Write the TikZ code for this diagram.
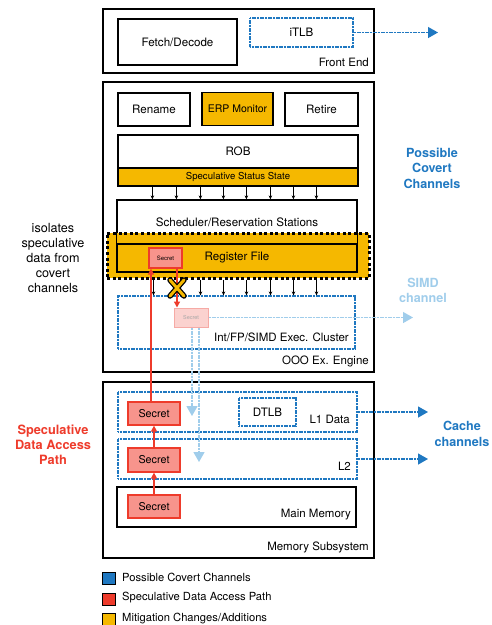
\documentclass[tikz,border=0pt]{standalone}
\usepackage{fontspec}
\setmainfont{TeX Gyre Heros}
\usetikzlibrary{arrows.meta}
\definecolor{cblue}{HTML}{1F78C1}
\definecolor{lblue}{HTML}{A0CDEB}
\definecolor{corange}{HTML}{F5B800}
\definecolor{cred}{HTML}{EE3B2B}
\definecolor{cpink}{HTML}{F7948C}
\definecolor{fpink}{HTML}{FBD2CF}
\definecolor{fpinkb}{HTML}{F6AAA5}
\begin{document}
\begin{tikzpicture}[x=1pt,y=-1pt,
  wh/.style 2 args={minimum width=#1,minimum height=#2},
  box/.style={draw=black,line width=1.2pt,fill=white,inner sep=0pt,font=\fontsize{11.6}{13}\selectfont},
  obox/.style={box,fill=corange},
  bbox/.style={draw=cblue,line width=1.2pt,dash pattern=on 1.2pt off 0.4pt,fill=white,inner sep=0pt,font=\fontsize{11.6}{13}\selectfont},
  secretbox/.style={draw=cred,line width=1.2pt,fill=cpink,inner sep=0pt,font=\fontsize{10.8}{12}\selectfont},
  corner/.style={anchor=east,inner sep=0pt,font=\fontsize{11.5}{13}\selectfont},
  smallarr/.style={draw=black,line width=0.6pt,-{Stealth[length=4pt,width=3.5pt]}},
  redarr/.style={draw=cred,line width=1.3pt,-{Triangle[length=6pt,width=6pt]}},
  bluearr/.style={draw=cblue,line width=1.3pt,dash pattern=on 1.2pt off 0.4pt,-{Triangle[length=10pt,width=11pt]}},
  lbluearr/.style={draw=lblue,line width=1.3pt,dash pattern=on 1.2pt off 0.4pt,-{Triangle[length=10pt,width=11pt]}},
  sidetext/.style={align=center,inner sep=0pt,font=\fontsize{12.6}{15}\selectfont},
  legsq/.style={draw=black,line width=1pt,inner sep=0pt,minimum width=13pt,minimum height=12pt},
  legtext/.style={anchor=west,inner sep=0pt,font=\fontsize{11.2}{12}\selectfont}
]
\useasboundingbox (0,0) rectangle (491,625);

% ---------- Front End ----------
\node[box,wh={271pt}{64pt}] (fe) at (238.5,41) {};
\node[box,wh={119pt}{46pt}] (fetch) at (177.5,42) {Fetch/Decode};
\node[bbox,wh={103pt}{29pt}] (itlb) at (301.5,32.5) {iTLB};
\node[corner] (felab) at (369,62) {Front End};
\coordinate (itlbend) at (438,32.5);
\draw[bluearr] (itlb.east) -- (itlbend);

% ---------- OOO engine ----------
\node[box,wh={271pt}{290pt}] (ooo) at (238.5,227) {};
\node[box,wh={72pt}{33pt}] (rename) at (154,109.5) {Rename};
\node[obox,wh={71pt}{33pt},font=\fontsize{10.5}{12}\selectfont] (erp) at (237.5,109) {ERP Monitor};
\node[box,wh={73pt}{33pt}] (retire) at (321.5,109.5) {Retire};
\node[box,wh={240pt}{33pt}] (rob) at (238,151.5) {ROB};
\node[obox,wh={240pt}{18pt},font=\fontsize{9.6}{11}\selectfont] (sss) at (238,177) {Speculative Status State};
\node[box,wh={240pt}{44pt}] (sched) at (237,222) {};
\node[inner sep=0pt,font=\fontsize{11.6}{13}\selectfont] (schedlab) at (237,222) {Scheduler/Reservation Stations};
\foreach \d in {35,59,83,106,129,153,176,199}
  \draw[smallarr] ([xshift=\d pt]sss.south west) -- ([xshift=\d pt]sss.south west |- sched.north);

% orange mitigation region
\node[draw=black,fill=corange,line width=3pt,dash pattern=on 3pt off 2.6pt,inner sep=0pt,wh={262pt}{45pt}] (mitig) at (238,255.5) {};
\draw[line width=1.2pt] (sched.north west) rectangle (sched.south east);
\node[obox,wh={240pt}{28pt}] (rf) at (237,258) {};
\node[inner sep=0pt,font=\fontsize{11.6}{13}\selectfont] (rflab) at (237,258) {Register File};
\node[secretbox,wh={33pt}{20pt},font=\fontsize{6}{7}\selectfont] (rfs) at (165.5,258) {Secret};

% exec cluster
\node[bbox,wh={237pt}{53pt}] (exec) at (236.5,322.5) {};
\node[corner] (execlab) at (349,337) {Int/FP/SIMD Exec. Cluster};
\node[corner] (ooolab) at (369,361) {OOO Ex. Engine};
\foreach \d in {48,95,118,141,165,188,211}
  \draw[smallarr] ([xshift=\d pt]mitig.south west) -- ([xshift=\d pt]mitig.south west |- exec.north);

\node[draw=fpinkb,fill=fpink,line width=1pt,inner sep=0pt,wh={34pt}{19pt},text=black!35,font=\fontsize{5.5}{6}\selectfont] (fsec) at (191,317.5) {Secret};
\coordinate (simdend) at (413,317.5);
\draw[lbluearr] (fsec.east) -- (simdend);

% red arrow blocked by X
\draw[redarr] ([xshift=11.5pt]rfs.south) -- ([xshift=11.5pt]rfs.south |- fsec.north);
\coordinate (xm) at (177,288);
\draw[black,line width=5.5pt,line cap=round] ([shift={(-7,-8)}]xm) -- ([shift={(7,8)}]xm) ([shift={(7,-8)}]xm) -- ([shift={(-7,8)}]xm);
\draw[corange,line width=3pt,line cap=round] ([shift={(-7,-8)}]xm) -- ([shift={(7,8)}]xm) ([shift={(7,-8)}]xm) -- ([shift={(-7,8)}]xm);

% ---------- Memory subsystem ----------
\node[box,wh={271pt}{176pt}] (mem) at (238.5,470) {};
\node[corner] (memlab) at (369,547) {Memory Subsystem};
\node[bbox,wh={239pt}{40pt}] (l1) at (237.5,412) {};
\node[corner] (l1lab) at (350,419) {L1 Data};
\node[bbox,wh={57pt}{28pt}] (dtlb) at (267.5,412) {DTLB};
\node[bbox,wh={239pt}{40pt}] (l2) at (237.5,459) {};
\node[corner] (l2lab) at (351,466) {L2};
\node[box,wh={239pt}{40pt}] (mm) at (236.5,507) {};
\node[corner] (mmlab) at (351,515) {Main Memory};
\node[secretbox,wh={52pt}{23pt}] (s1) at (154,413.5) {Secret};
\node[secretbox,wh={52pt}{24pt}] (s2) at (154,460) {Secret};
\node[secretbox,wh={52pt}{23pt}] (s3) at (154,506.5) {Secret};

% light blue leaks into caches
\coordinate (c1) at (192,416);
\coordinate (c2) at (199,462);
\draw[lbluearr] (c1 |- fsec.south) -- (c1);
\draw[lbluearr] (c2 |- fsec.south) -- (c2);

% speculative data access path
\draw[redarr] (s3.north) -- (s2.south);
\draw[redarr] (s2.north) -- (s1.south);
\draw[redarr] ([xshift=-3pt]s1.north) -- ([xshift=-3pt]s1.north |- rfs.south);

% cache channels
\coordinate (l1end) at (428,412);
\coordinate (l2end) at (428,459);
\draw[bluearr] (l1.east) -- (l1end);
\draw[bluearr] (l2.east) -- (l2end);

% ---------- side texts ----------
\node[sidetext,text=cblue,font=\bfseries\fontsize{12.6}{15.5}\selectfont] (pcc) at (432,168) {Possible\\Covert\\Channels};
\node[sidetext,text=lblue,font=\bfseries\fontsize{12.6}{15}\selectfont] (simd) at (423,290) {SIMD\\channel};
\node[sidetext,text=cblue,font=\bfseries\fontsize{12.6}{16}\selectfont] (cache) at (462,434) {Cache\\channels};
\node[sidetext,text=cred,font=\bfseries\fontsize{12.8}{15}\selectfont] (sdap) at (53,445) {Speculative\\Data Access\\Path};
\node[sidetext,font=\fontsize{12.6}{15}\selectfont] (iso) at (53,258) {isolates\\speculative\\data from\\covert\\channels};

% ---------- legend ----------
\node[legsq,fill=cblue] (lg1) at (109,578) {};
\node[legsq,fill=cred] (lg2) at (109,599) {};
\node[legsq,fill=corange] (lg3) at (109,619) {};
\node[legtext] (lt1) at (122,577) {Possible Covert Channels};
\node[legtext] (lt2) at (122,598) {Speculative Data Access Path};
\node[legtext] (lt3) at (122,619) {Mitigation Changes/Additions};
\end{tikzpicture}
\end{document}
